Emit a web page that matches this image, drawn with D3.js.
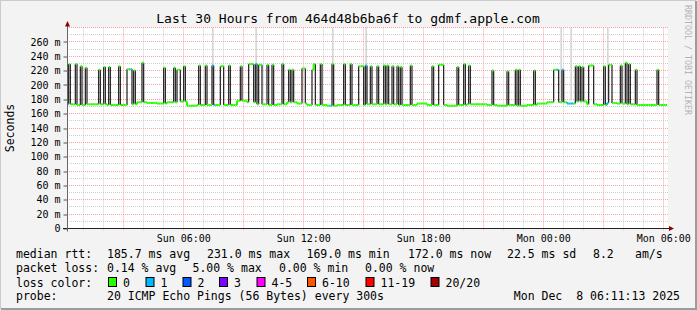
<!DOCTYPE html>
<html>
<head>
<meta charset="utf-8">
<script src="https://cdn.jsdelivr.net/npm/d3@7"></script>
<style>
	body { margin: 0; background: #f3f3f3; }
	svg { display: block; }
	text { font-family: "DejaVu Sans Mono", monospace; fill: #000; }
</style>
</head>
<body>
<svg id="chart" width="697" height="310"></svg>
<script>
// time range of the graph (UTC), one rrd step = 300 s
var START = Date.UTC(2025, 11, 7, 0, 11, 13);
var END = Date.UTC(2025, 11, 8, 6, 11, 13);
var STEP = 300 * 1000;
var N = 360;

// median rtt baseline in ms, one value per half hour
var baseline = [
	173, 172, 173, 173, 172, 172, 173, 176, 175, 174, 176, 177, 171, 172, 172,
	172, 172, 178, 176, 173, 172, 173, 176, 174, 172, 172, 171, 172, 172, 172,
	173, 173, 173, 172, 172, 174, 172, 172, 171, 172, 173, 173, 172, 171, 172,
	171, 172, 174, 176, 176, 174, 177, 173, 172, 175, 174, 173, 172, 172, 172
];

// high median episodes: [first step, number of steps, ms]
var spikes = [
	[1, 1, 229], [5, 1, 229], [8, 1, 226], [11, 1, 224], [19, 1, 221], [22, 1, 225],
	[25, 1, 225], [31, 1, 226], [36, 3, 222], [40, 1, 220], [45, 1, 231], [58, 1, 224],
	[64, 1, 224], [66, 2, 221], [70, 1, 226], [79, 1, 227], [83, 1, 227], [87, 1, 227],
	[92, 2, 226], [97, 1, 227], [104, 1, 226], [109, 3, 229], [113, 1, 229], [115, 2, 228],
	[120, 1, 228], [123, 1, 228], [129, 1, 229], [133, 1, 221], [135, 1, 221], [141, 2, 223],
	[147, 1, 221], [148, 1, 229], [152, 1, 229], [159, 1, 229], [166, 1, 229], [170, 1, 229],
	[175, 3, 226], [179, 1, 227], [182, 1, 226], [186, 1, 226], [190, 1, 227], [192, 1, 227],
	[195, 1, 226], [198, 1, 226], [200, 1, 225], [206, 1, 227], [219, 1, 226], [223, 3, 228],
	[234, 1, 225], [238, 1, 229], [241, 1, 227], [255, 1, 220], [264, 1, 219], [269, 1, 221],
	[271, 1, 221], [280, 1, 220], [292, 3, 221], [297, 1, 221], [305, 1, 226], [307, 1, 226],
	[309, 1, 225], [313, 3, 227], [322, 1, 226], [325, 2, 228], [332, 1, 227], [335, 1, 231],
	[337, 1, 229], [341, 1, 221], [354, 1, 221]
];

// steps that lost 1 of 20 pings
var lossSteps = [0, 38, 87, 88, 113, 158, 179, 294, 297, 300, 301, 302, 303, 324];

// steps whose slowest ping is off the top of the graph
var smokeSteps = [87, 113, 159, 179, 296, 302, 324];

// legend content
var lossLabels = ["0", "1", "2", "3", "4-5", "6-10", "11-19", "20/20"];
var lossColors = ["#26ff00", "#00b8ff", "#0059ff", "#7e00ff", "#ff00ff", "#ff5500", "#ff0000", "#a00000"];
var rttStats = ["185.7 ms avg", "231.0 ms max", "169.0 ms min", "172.0 ms now", "22.5 ms sd", "8.2", "am/s"];
var lossStats = ["0.14 % avg", "5.00 % max", "0.00 % min", "0.00 % now"];
var probeText = "20 ICMP Echo Pings (56 Bytes) every 300s";
var stampText = "Mon Dec  8 06:11:13 2025";

// ---- layout ----
var LEFT = 67, RIGHT = 667, TOP = 27.5, BOTTOM = 228.5;
var rttCols = [107, 207, 306.5, 408, 507, 593, 635];
var lossCols = [107, 192.5, 279, 365];
var boxCols = [108, 145.5, 182.5, 219, 256.5, 307, 365.5, 430.5];

var svg = d3.select("#chart");

var x = d3.scaleUtc().domain([new Date(START), new Date(END)]).range([LEFT, RIGHT]);
var y = d3.scaleLinear().domain([0, 280]).range([BOTTOM, TOP]);

function snap(v) { return Math.round(v - 0.5) + 0.5; }
function stepX(i) { return x(new Date(START + i * STEP)); }

// background and 3d frame
svg.append("rect").attr("width", 697).attr("height", 310).attr("fill", "#f3f3f3");
svg.append("path").attr("d", "M0,309V0H696").attr("fill", "none").attr("stroke", "#cbcbcb").attr("stroke-width", 2);
svg.append("path").attr("d", "M1,309H696V1").attr("fill", "none").attr("stroke", "#9c9c9c").attr("stroke-width", 2);

// canvas
svg.append("rect")
	.attr("x", LEFT).attr("y", TOP)
	.attr("width", RIGHT - LEFT + 1).attr("height", BOTTOM - TOP)
	.attr("fill", "#fff");

// grid
var hours = x.ticks(d3.utcHour.every(1));
var grid = svg.append("g").attr("stroke-dasharray", "1,1").attr("fill", "none");

grid.selectAll("line.vminor")
	.data(hours.filter(function(d) { return d.getUTCHours() % 3 !== 0; }))
	.join("line")
	.attr("x1", function(d) { return snap(x(d)); })
	.attr("x2", function(d) { return snap(x(d)); })
	.attr("y1", TOP).attr("y2", BOTTOM + 2)
	.attr("stroke", "#cfcfcf");

grid.selectAll("line.hminor")
	.data(d3.range(10, 280, 20))
	.join("line")
	.attr("x1", LEFT).attr("x2", RIGHT + 1)
	.attr("y1", function(d) { return snap(y(d)); })
	.attr("y2", function(d) { return snap(y(d)); })
	.attr("stroke", "#cfcfcf");

grid.selectAll("line.vmajor")
	.data(hours.filter(function(d) { return d.getUTCHours() % 3 === 0; }))
	.join("line")
	.attr("x1", function(d) { return snap(x(d)); })
	.attr("x2", function(d) { return snap(x(d)); })
	.attr("y1", TOP).attr("y2", BOTTOM + 2)
	.attr("stroke", "#f7a3a3");

grid.selectAll("line.hmajor")
	.data(d3.range(20, 281, 20))
	.join("line")
	.attr("x1", LEFT).attr("x2", RIGHT + 1)
	.attr("y1", function(d) { return snap(y(d)); })
	.attr("y2", function(d) { return snap(y(d)); })
	.attr("stroke", "#f7a3a3");

// build median series
var median = d3.range(N).map(function(i) { return baseline[Math.floor(i / 6)]; });
spikes.forEach(function(s) {
	for (var k = 0; k < s[1]; k++) median[s[0] + k] = s[2];
});
var loss = d3.range(N).map(function() { return 0; });
lossSteps.forEach(function(i) { loss[i] = 1; });

var plot = svg.append("g");

// light smoke that runs off the top
plot.selectAll("rect.smoke")
	.data(smokeSteps)
	.join("rect")
	.attr("x", function(i) { return stepX(i); })
	.attr("width", function(i) { return stepX(i + 1) - stepX(i); })
	.attr("y", TOP)
	.attr("height", y(178) - TOP)
	.attr("fill", "#d6d6d6");

// dark smoke at the big jumps
var jumps = d3.range(1, N).filter(function(i) { return Math.abs(median[i] - median[i - 1]) > 15; });
plot.selectAll("line.jump")
	.data(jumps)
	.join("line")
	.attr("x1", function(i) { return stepX(i); })
	.attr("x2", function(i) { return stepX(i); })
	.attr("y1", function(i) { return y(median[i - 1]); })
	.attr("y2", function(i) { return y(median[i]); })
	.attr("stroke", "#1c1c1c")
	.attr("stroke-width", 1.2);

// small median wiggles
var wiggles = d3.range(1, N).filter(function(i) {
	return median[i] !== median[i - 1] && Math.abs(median[i] - median[i - 1]) <= 15;
});
plot.selectAll("line.wiggle")
	.data(wiggles)
	.join("line")
	.attr("x1", function(i) { return stepX(i); })
	.attr("x2", function(i) { return stepX(i); })
	.attr("y1", function(i) { return y(median[i - 1]); })
	.attr("y2", function(i) { return y(median[i]); })
	.attr("stroke", function(i) { return lossColors[loss[i]]; })
	.attr("stroke-width", 2);

// median line coloured by loss
plot.selectAll("line.median")
	.data(d3.range(N))
	.join("line")
	.attr("x1", function(i) { return stepX(i); })
	.attr("x2", function(i) { return stepX(i + 1); })
	.attr("y1", function(i) { return y(median[i]); })
	.attr("y2", function(i) { return y(median[i]); })
	.attr("stroke", function(i) { return lossColors[loss[i]]; })
	.attr("stroke-width", 2);

// axes
var xAxis = d3.axisBottom(x)
	.tickValues(x.ticks(d3.utcHour.every(6)))
	.tickFormat(d3.utcFormat("%a %H:%M"))
	.tickSize(0)
	.tickPadding(6);

var gx = svg.append("g").attr("transform", "translate(0," + BOTTOM + ")").call(xAxis);
gx.select(".domain").remove();
gx.selectAll("text").attr("font-size", 10).attr("font-family", "DejaVu Sans Mono");

var yAxis = d3.axisLeft(y)
	.tickValues(d3.range(0, 261, 20))
	.tickFormat(function(d) { return d ? d + " m" : "0"; })
	.tickSize(4)
	.tickPadding(3);

var gy = svg.append("g").attr("transform", "translate(" + (LEFT + 0.5) + ",0)").call(yAxis);
gy.select(".domain").remove();
gy.selectAll("line").attr("stroke", "#555").attr("transform", function(d) { return "translate(0," + (snap(y(d)) - y(d)) + ")"; });
gy.selectAll("text").attr("font-size", 10).attr("font-family", "DejaVu Sans Mono");

// axis lines and arrows
svg.append("line").attr("x1", LEFT - 4).attr("x2", RIGHT + 3).attr("y1", snap(BOTTOM)).attr("y2", snap(BOTTOM)).attr("stroke", "#222");
svg.append("line").attr("x1", LEFT + 0.5).attr("x2", LEFT + 0.5).attr("y1", BOTTOM + 3).attr("y2", TOP - 4).attr("stroke", "#666");
svg.append("path").attr("d", "M" + (LEFT - 2) + "," + (TOP - 1) + "L" + (LEFT + 0.5) + "," + (TOP - 6.5) + "L" + (LEFT + 3) + "," + (TOP - 1) + "Z").attr("fill", "#8b0000");
svg.append("path").attr("d", "M" + (RIGHT + 2) + "," + (snap(BOTTOM) - 2.5) + "L" + (RIGHT + 7) + "," + snap(BOTTOM) + "L" + (RIGHT + 2) + "," + (snap(BOTTOM) + 2.5) + "Z").attr("fill", "#8b0000");

// titles
svg.append("text")
	.attr("x", 348).attr("y", 23)
	.attr("text-anchor", "middle")
	.attr("font-size", 13)
	.text("Last 30 Hours from 464d48b6ba6f to gdmf.apple.com");

svg.append("text")
	.attr("transform", "translate(14,128) rotate(-90)")
	.attr("text-anchor", "middle")
	.attr("font-size", 11.5)
	.text("Seconds");

svg.append("text")
	.attr("transform", "translate(685,5) rotate(90)")
	.attr("font-size", 8.3)
	.style("fill", "#b3b3b3")
	.text("RRDTOOL / TOBI OETIKER");

// legend
var legend = svg.append("g").attr("font-size", 11.5);

legend.append("text").attr("x", 16).attr("y", 258.3).text("median rtt:");
legend.selectAll("text.rtt")
	.data(rttStats)
	.join("text")
	.attr("x", function(d, i) { return rttCols[i]; })
	.attr("y", 258.3)
	.text(function(d) { return d; });

legend.append("text").attr("x", 16).attr("y", 272.3).text("packet loss:");
legend.selectAll("text.loss")
	.data(lossStats)
	.join("text")
	.attr("x", function(d, i) { return lossCols[i]; })
	.attr("y", 272.3)
	.text(function(d) { return d; });

legend.append("text").attr("x", 16).attr("y", 286.5).text("loss color:");
var items = legend.selectAll("g.item")
	.data(lossLabels)
	.join("g")
	.attr("transform", function(d, i) { return "translate(" + boxCols[i] + ",0)"; });
items.append("rect")
	.attr("x", 0.5).attr("y", 277.5)
	.attr("width", 8).attr("height", 9)
	.attr("fill", function(d, i) { return lossColors[i]; })
	.attr("stroke", "#000");
items.append("text")
	.attr("x", 15).attr("y", 286.5)
	.text(function(d) { return d; });

legend.append("text").attr("x", 16).attr("y", 300).text("probe:");
legend.append("text").attr("x", 107).attr("y", 300).text(probeText);
legend.append("text").attr("x", 680).attr("y", 300).attr("text-anchor", "end").style("white-space", "pre").text(stampText);
</script>
</body>
</html>
